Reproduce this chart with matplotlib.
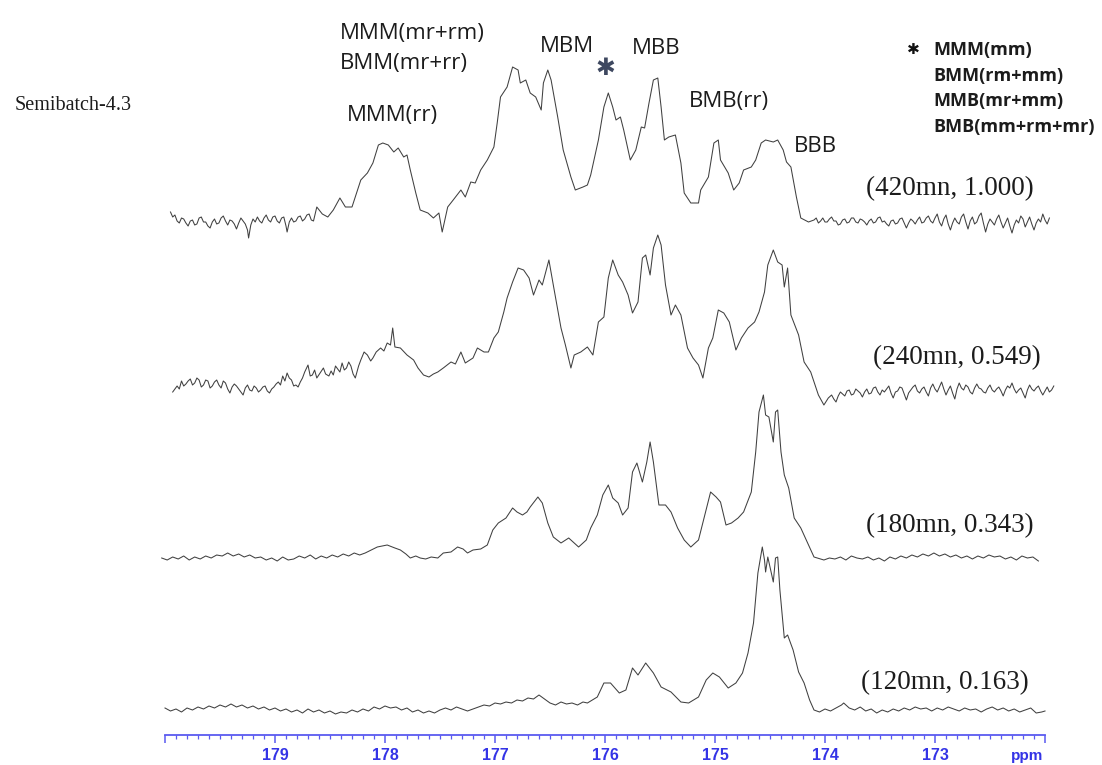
import numpy as np
import matplotlib.pyplot as plt
from matplotlib.ticker import FixedLocator, MultipleLocator

W, H = 1102, 765

# 13C carbonyl spectra, (ppm, intensity), intensity in
# arbitrary units above each trace's own baseline
spec_420 = [
    (179.95, 8), (179.93, 3), (179.91, 5), (179.89, -1), (179.87, -3), (179.85, 2),
    (179.83, 1), (179.81, -3), (179.79, -6), (179.77, -1), (179.75, 0), (179.73, -5),
    (179.71, -4), (179.69, 2), (179.67, 3), (179.65, -2), (179.63, -2), (179.61, -6),
    (179.59, -8), (179.57, -2), (179.55, 1), (179.53, -4), (179.51, -3), (179.49, 2),
    (179.47, 4), (179.45, -1), (179.43, -5), (179.41, 0), (179.39, -1), (179.37, -4),
    (179.35, -9), (179.33, -3), (179.31, 2), (179.29, -1), (179.27, -4), (179.25, -10),
    (179.24, -18), (179.22, -5), (179.20, 1), (179.18, -2), (179.16, 3), (179.14, -1),
    (179.12, -3), (179.10, 2), (179.08, 5), (179.06, 0), (179.04, -2), (179.02, 3),
    (179.00, 4), (178.98, -1), (178.96, -3), (178.94, 2), (178.92, 3), (178.90, -6),
    (178.89, -12), (178.87, -2), (178.85, 2), (178.83, -2), (178.81, -1), (178.79, 3),
    (178.77, 4), (178.75, -1), (178.73, 1), (178.71, 5), (178.69, 6), (178.67, 0),
    (178.65, -1),
    (178.62, 13), (178.57, 6), (178.52, 3), (178.47, 10), (178.41, 22), (178.36, 13),
    (178.30, 13), (178.22, 40), (178.16, 47), (178.11, 57), (178.06, 75), (178.02, 77),
    (177.97, 75), (177.92, 68), (177.88, 72), (177.83, 63), (177.80, 65), (177.77, 50),
    (177.72, 27), (177.68, 10), (177.61, 7), (177.56, 2), (177.51, 7), (177.48, -12),
    (177.43, 13), (177.38, 20), (177.31, 30), (177.27, 23), (177.22, 38), (177.18, 37),
    (177.13, 50), (177.07, 60), (177.01, 73), (176.98, 97), (176.95, 123), (176.89, 133),
    (176.84, 153), (176.79, 150), (176.77, 137), (176.72, 140), (176.68, 127), (176.63, 123),
    (176.58, 110), (176.56, 137), (176.52, 150), (176.49, 140), (176.43, 103), (176.38, 70),
    (176.31, 43), (176.27, 30), (176.20, 33), (176.16, 35), (176.13, 45), (176.10, 60),
    (176.06, 80), (176.01, 113), (175.97, 127), (175.93, 113), (175.90, 100), (175.86, 103),
    (175.83, 90), (175.77, 60), (175.72, 70), (175.67, 93), (175.64, 92), (175.60, 117),
    (175.56, 140), (175.52, 142), (175.49, 113), (175.46, 80), (175.42, 83), (175.36, 85),
    (175.31, 57), (175.28, 27), (175.22, 17), (175.15, 17), (175.13, 30), (175.06, 43),
    (175.01, 77), (174.97, 80), (174.95, 60), (174.88, 47), (174.83, 30), (174.78, 37),
    (174.74, 50), (174.67, 53), (174.63, 60), (174.58, 77), (174.54, 80), (174.47, 78),
    (174.43, 80), (174.38, 70), (174.35, 58), (174.31, 53), (174.26, 23), (174.22, 2),
    (174.15, -2),
    (174.10, 0), (174.08, 2), (174.06, -3), (174.04, -1), (174.02, 2), (174.00, -2),
    (173.98, -2), (173.96, 1), (173.94, 3), (173.92, -1), (173.90, -1), (173.88, -5),
    (173.86, -4), (173.84, 0), (173.82, 1), (173.80, -3), (173.78, -2), (173.76, 2),
    (173.74, 2), (173.72, -2), (173.70, -3), (173.68, 1), (173.66, 0), (173.64, -2),
    (173.62, -5), (173.60, -1), (173.58, 1), (173.56, -3), (173.54, -2), (173.52, 2),
    (173.50, 3), (173.48, -2), (173.46, -1), (173.44, -4), (173.42, -6), (173.40, -1),
    (173.38, 0), (173.36, -4), (173.34, -3), (173.32, 1), (173.30, 2), (173.28, -3),
    (173.26, -8), (173.24, -3), (173.22, 1), (173.20, -1), (173.18, -4), (173.16, 0),
    (173.14, 3), (173.12, -3), (173.10, -2), (173.08, 2), (173.06, 4), (173.04, -1),
    (173.02, -3), (173.00, 2), (172.98, 6), (172.96, -2), (172.94, -6), (172.92, 1),
    (172.90, 5), (172.88, -4), (172.86, -10), (172.84, -3), (172.82, 2), (172.80, -2),
    (172.78, -4), (172.76, 3), (172.74, 6), (172.72, -2), (172.70, -9), (172.68, -1),
    (172.66, 3), (172.64, -4), (172.62, -2), (172.60, 4), (172.58, 7), (172.56, -3),
    (172.54, -12), (172.52, -4), (172.50, 1), (172.48, -2), (172.46, -5), (172.44, 1),
    (172.42, 5), (172.40, -2), (172.38, -8), (172.36, -3), (172.34, 2), (172.32, -6),
    (172.30, -13), (172.28, -5), (172.26, 0), (172.24, -3), (172.22, 4), (172.20, 1),
    (172.18, -7), (172.16, -2), (172.14, 3), (172.12, -4), (172.10, -10), (172.08, -3),
    (172.06, 1), (172.04, -2), (172.02, 6), (172.00, 0), (171.98, -4), (171.96, 2),
]

spec_240 = [
    (179.93, -2), (179.91, 1), (179.89, 4), (179.87, 1), (179.85, 9), (179.83, 4),
    (179.81, 6), (179.79, 9), (179.77, 11), (179.75, 5), (179.73, 7), (179.71, 12),
    (179.69, 10), (179.67, 3), (179.65, 5), (179.63, 10), (179.61, 9), (179.59, 2),
    (179.57, 4), (179.55, 8), (179.53, 10), (179.51, 5), (179.49, 2), (179.47, 9),
    (179.45, 7), (179.43, 1), (179.41, -3), (179.39, 3), (179.37, 6), (179.35, 4),
    (179.33, 1), (179.31, -2), (179.29, -5), (179.27, 2), (179.25, 5), (179.23, 0),
    (179.21, -1), (179.19, 4), (179.17, 2), (179.15, -2), (179.13, 0), (179.11, 3),
    (179.09, 4), (179.07, -1), (179.05, -3), (179.03, 1), (179.01, 3), (178.99, 6),
    (178.97, 8), (178.95, 5), (178.93, 14), (178.91, 9), (178.89, 17), (178.87, 12),
    (178.85, 10), (178.83, 4), (178.81, 5), (178.79, 3), (178.77, 8), (178.75, 12),
    (178.73, 18), (178.70, 25), (178.68, 14), (178.66, 15), (178.64, 20), (178.62, 12),
    (178.59, 17), (178.56, 22), (178.54, 16), (178.51, 14), (178.49, 19), (178.47, 15),
    (178.45, 24), (178.43, 21), (178.41, 18), (178.39, 27), (178.37, 20), (178.35, 22),
    (178.33, 28), (178.31, 24), (178.29, 16), (178.27, 12), (178.24, 24), (178.22, 30),
    (178.19, 38), (178.16, 35), (178.13, 29), (178.11, 32), (178.08, 38), (178.04, 42),
    (178.01, 39), (177.98, 47), (177.95, 45), (177.93, 62), (177.91, 43), (177.86, 42),
    (177.80, 35), (177.74, 30), (177.70, 22), (177.65, 15), (177.60, 13), (177.56, 16),
    (177.52, 18), (177.47, 22), (177.40, 28), (177.36, 26), (177.31, 38), (177.27, 27),
    (177.20, 32), (177.16, 42), (177.10, 38), (177.06, 38), (177.01, 52), (176.97, 58),
    (176.92, 78), (176.89, 92), (176.84, 108), (176.79, 122), (176.74, 120), (176.69, 112),
    (176.65, 95), (176.60, 110), (176.57, 105), (176.51, 130), (176.47, 105), (176.40, 62),
    (176.36, 45), (176.31, 22), (176.28, 35), (176.22, 38), (176.16, 43), (176.11, 35),
    (176.06, 68), (176.01, 73), (175.97, 112), (175.93, 130), (175.88, 115), (175.84, 108),
    (175.79, 95), (175.75, 77), (175.70, 88), (175.66, 132), (175.63, 135), (175.59, 115),
    (175.56, 142), (175.52, 155), (175.49, 145), (175.45, 105), (175.40, 75), (175.36, 85),
    (175.31, 75), (175.25, 42), (175.20, 32), (175.15, 25), (175.11, 12), (175.06, 42),
    (175.02, 52), (174.97, 80), (174.92, 77), (174.87, 68), (174.81, 40), (174.76, 52),
    (174.70, 62), (174.64, 68), (174.60, 78), (174.55, 98), (174.52, 125), (174.47, 140),
    (174.43, 128), (174.39, 125), (174.37, 103), (174.34, 122), (174.31, 75), (174.24, 55),
    (174.19, 28), (174.13, 18), (174.06, -5), (174.01, -15),
    (173.97, -8), (173.94, -5), (173.92, -9), (173.90, -12), (173.88, -6), (173.86, -2),
    (173.84, -4), (173.82, -6), (173.80, -1), (173.78, 0), (173.76, -5), (173.74, -4),
    (173.72, 1), (173.70, -1), (173.68, -3), (173.66, -7), (173.64, -2), (173.62, 1),
    (173.60, -4), (173.58, -3), (173.56, 2), (173.54, 3), (173.52, -2), (173.50, -5),
    (173.48, 0), (173.46, -2), (173.44, 1), (173.42, 4), (173.40, -3), (173.38, -8),
    (173.36, -2), (173.34, -1), (173.32, 3), (173.30, 2), (173.28, -4), (173.26, -10),
    (173.24, -3), (173.22, 0), (173.20, 3), (173.18, 5), (173.16, -1), (173.14, -3),
    (173.12, 1), (173.10, 3), (173.08, -2), (173.06, -6), (173.04, 2), (173.02, 6),
    (173.00, 1), (172.98, -2), (172.96, 3), (172.94, 8), (172.92, 1), (172.90, -5),
    (172.88, 0), (172.86, 4), (172.84, -3), (172.82, -9), (172.80, 1), (172.78, 7),
    (172.76, 2), (172.74, 0), (172.72, 5), (172.70, 3), (172.68, -2), (172.66, -4),
    (172.64, 2), (172.62, 6), (172.60, 2), (172.58, 1), (172.56, -2), (172.54, -3),
    (172.52, 2), (172.50, 5), (172.48, 0), (172.46, -2), (172.44, 1), (172.42, 3),
    (172.40, -1), (172.38, -6), (172.36, 0), (172.34, 4), (172.32, 2), (172.30, 7),
    (172.28, 1), (172.26, -3), (172.24, 0), (172.22, 2), (172.20, -3), (172.18, -8),
    (172.16, 0), (172.14, 5), (172.12, 1), (172.10, -1), (172.08, 2), (172.06, 4),
    (172.04, -1), (172.02, -5), (172.00, -1), (171.98, 3), (171.96, -2), (171.94, 0),
    (171.92, 4),
]

spec_180 = [
    (180.03, 0), (179.98, -2), (179.93, 1), (179.88, -1), (179.83, 2), (179.78, -2),
    (179.73, 1), (179.68, -1), (179.63, 2), (179.58, 0), (179.53, 3), (179.48, 2),
    (179.43, 5), (179.38, 2), (179.33, 4), (179.28, 1), (179.23, 3), (179.18, 0),
    (179.13, 1), (179.08, -2), (179.03, 0), (178.98, -3), (178.93, 1), (178.88, -2),
    (178.83, -1), (178.78, 2), (178.73, 0), (178.68, 3), (178.63, -1), (178.58, 2),
    (178.53, 0), (178.48, 3), (178.43, 1), (178.38, 4), (178.33, 2), (178.28, 5),
    (178.23, 3), (178.18, 5), (178.07, 11), (177.98, 13), (177.91, 10), (177.86, 8),
    (177.81, 4), (177.77, 0), (177.72, 2), (177.68, 0), (177.63, -1), (177.58, 1),
    (177.52, 0), (177.47, 5), (177.40, 6), (177.34, 11), (177.29, 9), (177.25, 5),
    (177.20, 8), (177.13, 9), (177.07, 13), (177.02, 28), (176.97, 35), (176.90, 40),
    (176.84, 50), (176.80, 46), (176.75, 43), (176.71, 46), (176.68, 51), (176.61, 61),
    (176.57, 55), (176.52, 35), (176.47, 21), (176.40, 15), (176.33, 20), (176.29, 16),
    (176.24, 11), (176.17, 18), (176.13, 30), (176.07, 43), (176.02, 63), (175.97, 73),
    (175.93, 60), (175.88, 55), (175.84, 43), (175.79, 50), (175.75, 86), (175.71, 95),
    (175.66, 76), (175.62, 96), (175.59, 116), (175.56, 96), (175.51, 53), (175.45, 53),
    (175.40, 46), (175.34, 30), (175.28, 18), (175.22, 11), (175.15, 18), (175.10, 40),
    (175.04, 66), (174.99, 61), (174.95, 56), (174.90, 33), (174.85, 35), (174.79, 40),
    (174.74, 46), (174.67, 66), (174.63, 106), (174.60, 146), (174.56, 163), (174.54, 143),
    (174.51, 141), (174.47, 116), (174.45, 146), (174.43, 148), (174.40, 106), (174.37, 83),
    (174.33, 70), (174.28, 40), (174.22, 30), (174.15, 13), (174.10, 1),
    (174.01, -2), (173.96, 0), (173.91, -1), (173.86, 1), (173.81, -2), (173.76, 2),
    (173.71, 0), (173.66, -1), (173.61, 1), (173.56, -2), (173.51, 0), (173.46, -3),
    (173.41, 1), (173.36, -1), (173.31, 2), (173.26, 0), (173.21, 3), (173.16, 1),
    (173.11, 4), (173.06, 2), (173.01, 5), (172.96, 2), (172.91, 4), (172.86, 1),
    (172.81, 3), (172.76, 0), (172.71, 2), (172.66, -1), (172.61, 2), (172.56, 0),
    (172.51, 3), (172.46, 1), (172.41, 2), (172.36, -1), (172.31, 1), (172.26, -2),
    (172.21, 2), (172.16, 0), (172.11, 1), (172.06, -3),
]

spec_120 = [
    (180.00, 2), (179.95, -1), (179.90, 1), (179.85, -2), (179.80, 2), (179.75, 0),
    (179.70, 3), (179.65, 1), (179.60, 4), (179.55, 2), (179.50, 5), (179.45, 3),
    (179.40, 6), (179.35, 3), (179.30, 5), (179.25, 2), (179.20, 4), (179.15, 1),
    (179.10, 3), (179.05, 0), (179.00, 2), (178.95, -1), (178.90, 1), (178.85, -2),
    (178.80, 0), (178.75, -3), (178.70, 1), (178.65, -2), (178.60, 0), (178.55, -3),
    (178.50, -1), (178.45, -4), (178.40, -2), (178.35, -3), (178.30, 0), (178.25, -2),
    (178.20, 1), (178.15, -1), (178.10, 3), (178.05, 1), (178.00, 4), (177.95, 2),
    (177.90, 3), (177.85, 0), (177.80, 2), (177.75, -2), (177.70, 0), (177.65, -3),
    (177.60, -1), (177.55, -3), (177.50, 0), (177.45, 2), (177.40, 0), (177.35, 3),
    (177.30, 1), (177.25, -1), (177.20, 1), (177.15, 3), (177.10, 5), (177.05, 4),
    (177.00, 7), (176.95, 6), (176.90, 8), (176.85, 7), (176.80, 10), (176.75, 9),
    (176.70, 12), (176.65, 11), (176.60, 15), (176.55, 11), (176.50, 7), (176.45, 5),
    (176.40, 8), (176.35, 6), (176.30, 7), (176.25, 5), (176.20, 8), (176.16, 7),
    (176.07, 13), (176.01, 27), (175.95, 27), (175.87, 17), (175.81, 20), (175.75, 42),
    (175.70, 35), (175.63, 47), (175.56, 37), (175.49, 23), (175.40, 18), (175.31, 8),
    (175.24, 7), (175.15, 13), (175.08, 30), (175.02, 37), (174.96, 33), (174.88, 22),
    (174.81, 27), (174.75, 37), (174.70, 57), (174.65, 87), (174.61, 137), (174.57, 163),
    (174.55, 150), (174.54, 138), (174.52, 153), (174.49, 138), (174.47, 128), (174.45, 152),
    (174.43, 153), (174.41, 120), (174.37, 72), (174.34, 75), (174.29, 60), (174.24, 38),
    (174.19, 27), (174.14, 10), (174.10, 0),
    (174.05, -2), (174.00, 1), (173.95, -1), (173.90, 2), (173.85, 5), (173.83, 7),
    (173.78, 2), (173.73, 0), (173.68, 3), (173.63, -1), (173.58, 1), (173.53, -3),
    (173.48, 0), (173.43, -2), (173.38, 1), (173.33, -1), (173.28, 2), (173.23, 0),
    (173.18, 3), (173.13, 1), (173.08, 2), (173.03, -1), (172.98, 2), (172.93, 0),
    (172.88, 3), (172.83, 1), (172.78, -1), (172.73, 2), (172.68, 0), (172.63, 1),
    (172.58, -2), (172.53, 1), (172.48, 3), (172.43, 0), (172.38, 2), (172.33, -1),
    (172.28, 1), (172.23, -2), (172.18, 0), (172.13, 2), (172.08, -3), (172.03, -2),
    (172.00, -1),
]

spectra = [spec_420, spec_240, spec_180, spec_120]
run_labels = ["(420mn, 1.000)", "(240mn, 0.549)", "(180mn, 0.343)", "(120mn, 0.163)"]
peak_labels = ["MMM(mr+rm)", "BMM(mr+rr)", "MMM(rr)", "MBM", "MBB", "BMB(rr)", "BBB"]
star_legend = ["MMM(mm)", "BMM(rm+mm)", "MMB(mr+mm)", "BMB(mm+rm+mr)"]
ppm_ticks = [179, 178, 177, 176, 175, 174, 173]

# layout, in pixels of the 1102x765 picture
offsets = [516, 346, 178, 26]
run_label_pos = [(950, 189), (957, 358), (950, 526), (945, 683)]
peak_label_pos = [(340, 33), (340, 63), (392, 116), (567, 46), (656, 49), (729, 102), (815, 146)]
peak_label_ha = ["left", "left", "center", "center", "center", "center", "center"]

LINE = "#404040"
BLUE = "#3434e6"
AXIS = "#5a5af0"
TEXT = "#1c1c1c"


def fpos(x, y):
    return x / W, 1 - y / H


fig = plt.figure(figsize=(W / 100, H / 100), dpi=100)
ax = fig.add_axes([165 / W, 1 - 735 / H, 880 / W, 735 / H])

for spec, off in zip(spectra, offsets):
    ppm = np.array([p for p, _ in spec])
    inten = np.array([v for _, v in spec])
    ax.plot(ppm, inten + off - 1, color=LINE, lw=0.75, clip_on=False)

ax.set_xlim(180, 172)
ax.set_ylim(0, 735)
ax.set_yticks([])
for side in ["top", "left", "right"]:
    ax.spines[side].set_visible(False)
ax.spines["bottom"].set_color(AXIS)
ax.spines["bottom"].set_linewidth(1.3)
ax.patch.set_alpha(0)

major = [180] + ppm_ticks + [172]
ax.xaxis.set_major_locator(FixedLocator(major))
ax.set_xticklabels([""] + [str(t) for t in ppm_ticks] + [""])
ax.xaxis.set_minor_locator(MultipleLocator(0.1))
ax.tick_params(axis="x", which="major", length=5.5, width=1.1, color=AXIS,
               pad=4, labelsize=11.5, labelcolor=BLUE)
ax.tick_params(axis="x", which="minor", length=3, width=0.9, color=AXIS)
for lab in ax.get_xticklabels():
    lab.set_fontfamily("Liberation Sans")
    lab.set_fontweight("bold")
fig.text(*fpos(1043, 756), "ppm", ha="right", va="center", fontsize=11,
         fontweight="bold", color=BLUE, family="Liberation Sans")

# sample name and run labels
fig.text(*fpos(15, 106), "Semibatch-4.3", ha="left", va="center", fontsize=14.5,
         family="Liberation Serif", color=TEXT)
for lab, (x, y) in zip(run_labels, run_label_pos):
    fig.text(*fpos(x, y), lab, ha="center", va="center", fontsize=19.5,
             family="Liberation Serif", color=TEXT)

# peak assignments
for lab, (x, y), ha in zip(peak_labels, peak_label_pos, peak_label_ha):
    fig.text(*fpos(x, y), lab, ha=ha, va="center", fontsize=16,
             family="Open Sans", color=TEXT)

# star on the mm peak and its key
fig.text(*fpos(605, 68), "\u2731", ha="center", va="center", fontsize=17,
         family="DejaVu Sans", color="#3e4860")
fig.text(*fpos(913, 49), "\u2731", ha="center", va="center", fontsize=11,
         family="DejaVu Sans", color="#111111")
for i, lab in enumerate(star_legend):
    fig.text(*fpos(933, 50 + 25.7 * i), lab, ha="left", va="center", fontsize=13,
             family="Open Sans", fontweight="bold", color=TEXT)

fig.savefig("out.png", dpi=100)
